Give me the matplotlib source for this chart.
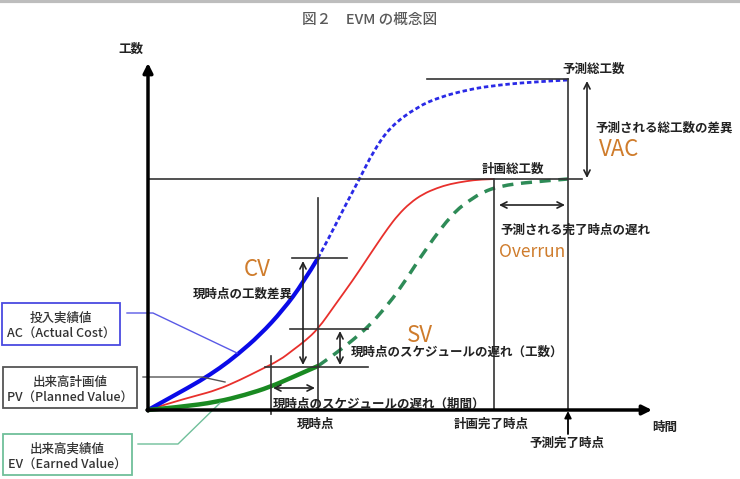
import matplotlib
matplotlib.use("Agg")
from matplotlib import pyplot as plt
from matplotlib.patches import Rectangle, PathPatch
from matplotlib.path import Path

plt.rcParams['font.family'] = ['Noto Sans CJK JP', 'DejaVu Sans']

# --- curve points (diagram coordinates, y grows downward) ---
ac_x = [148, 175, 200, 220, 237, 260, 283, 303, 318]
ac_y = [410, 395, 381, 368, 355, 335, 310, 283, 258]
ac_fc_x = [318, 330, 345, 360, 373, 390, 417, 440, 467, 490, 530, 568]
ac_fc_y = [258, 236, 206, 178, 152, 127, 107, 97, 90, 86, 82, 80]

pv_x = [148, 170, 195, 217, 240, 260, 280, 293, 305, 318, 335, 353, 365,
        377, 388, 398, 410, 423, 437, 450, 467, 480, 494]
pv_y = [410, 403, 396, 390, 380, 370, 360, 350, 341, 329, 305, 280, 262,
        244, 228, 215, 203, 194, 188, 184, 181, 179.5, 179]

ev_x = [148, 180, 217, 245, 270, 293, 318]
ev_y = [410, 407, 402, 395, 387, 377, 366]
ev_fc_x = [318, 335, 353, 370, 385, 400, 427, 453, 470, 483, 500, 530, 568]
ev_fc_y = [366, 354, 340, 325, 308, 289, 247, 213, 200, 192, 186, 182, 179]

# key positions
origin = (148, 410)
now_x, plan_end_x, fc_end_x = 318, 494, 568
plan_total_y, fc_total_y = 179, 79
ac_now, pv_now, ev_now = 258, 329, 367
ev_on_pv_x = 271

fig = plt.figure(figsize=(7.4, 4.79), dpi=100)
ax = fig.add_axes([0, 0, 1, 1])
ax.set_xlim(0, 740)
ax.set_ylim(479, 0)
ax.axis('off')


def smooth_curve(xs, ys, **kw):
    # quadratic bezier through the read points (points act as control points)
    pts = list(zip(xs, ys))
    verts = [pts[0]]
    codes = [Path.MOVETO]
    for i in range(1, len(pts) - 1):
        mid = ((pts[i][0] + pts[i + 1][0]) / 2, (pts[i][1] + pts[i + 1][1]) / 2)
        if i == len(pts) - 2:
            mid = pts[-1]
        verts += [pts[i], mid]
        codes += [Path.CURVE3, Path.CURVE3]
    ax.add_patch(PathPatch(Path(verts, codes), fill=False, **kw))


ref = dict(color='#333333', lw=1.2)

# top border shade
ax.plot([0, 740], [1, 1], color='#bdbdbd', lw=3)

# reference lines
ax.plot([origin[0], 582], [plan_total_y, plan_total_y], **ref)
ax.plot([427, fc_end_x], [fc_total_y, fc_total_y], **ref)
ax.plot([fc_end_x, fc_end_x], [fc_total_y, origin[1]], **ref)
ax.plot([plan_end_x, plan_end_x], [plan_total_y, origin[1]], **ref)
ax.plot([now_x, now_x], [198, origin[1]], **ref)
ax.plot([ev_on_pv_x, ev_on_pv_x], [356, 414], **ref)
ax.plot([292, 347], [ac_now, ac_now], **ref)
ax.plot([290, 368], [pv_now, pv_now], **ref)
ax.plot([265, 368], [ev_now, ev_now], **ref)

# curves
smooth_curve(pv_x, pv_y, edgecolor='#e8302c', lw=1.3)
smooth_curve(ac_fc_x, ac_fc_y, edgecolor='#2a2ae6', lw=2, linestyle=(0, (1.6, 1.0)))
smooth_curve(ev_fc_x, ev_fc_y, edgecolor='#2e8b57', lw=2.5, linestyle=(0, (3.2, 2.2)))
smooth_curve(ac_x, ac_y, edgecolor='#0a0ae8', lw=3, capstyle='round')
smooth_curve(ev_x, ev_y, edgecolor='#1a8a22', lw=3.2, capstyle='round')

# axes with arrows
axis_arrow = dict(arrowstyle='-|>', lw=2.5, color='black', mutation_scale=14,
                  shrinkA=0, shrinkB=0)
ax.annotate('', xy=(148, 63), xytext=(148, 411), arrowprops=axis_arrow)
ax.annotate('', xy=(652, 410), xytext=(147, 410), arrowprops=axis_arrow)
ax.annotate('', xy=(fc_end_x, 411), xytext=(fc_end_x, 434),
            arrowprops=dict(arrowstyle='-|>', lw=1.3, color='black',
                            mutation_scale=10, shrinkA=0, shrinkB=0))

# double arrows
dbl = dict(arrowstyle='<->', lw=1.2, color='#222222', mutation_scale=11,
           shrinkA=0, shrinkB=0)
ax.annotate('', xy=(303, 261), xytext=(303, 365), arrowprops=dbl)
ax.annotate('', xy=(340, 331), xytext=(340, 365), arrowprops=dbl)
ax.annotate('', xy=(273, 388), xytext=(315, 388), arrowprops=dbl)
ax.annotate('', xy=(587, 81), xytext=(587, 178), arrowprops=dbl)
ax.annotate('', xy=(499, 205), xytext=(565, 205), arrowprops=dbl)

# labels
lab = dict(fontsize=9, fontweight='bold', color='#222222', ha='center', va='center')
ax.text(131, 49, '工数', **lab)
ax.text(594, 69, '予測総工数', **lab)
ax.text(664, 128, '予測される総工数の差異', **lab)
ax.text(513, 169, '計画総工数', **lab)
ax.text(575, 230, '予測される完了時点の遅れ', **lab)
ax.text(243, 294, '現時点の工数差異', **lab)
ax.text(457, 352, '現時点のスケジュールの遅れ（工数）', **lab)
ax.text(379, 404, '現時点のスケジュールの遅れ（期間）', **lab)
ax.text(316, 424, '現時点', **lab)
ax.text(491, 424, '計画完了時点', **lab)
ax.text(567, 443, '予測完了時点', **lab)
ax.text(665, 427, '時間', **lab)

orange = '#cf7c2c'
ax.text(619, 150, 'VAC', fontsize=16, color=orange, ha='center', va='center')
ax.text(532, 252, 'Overrun', fontsize=12.5, color=orange, ha='center', va='center')
ax.text(257, 270, 'CV', fontsize=16, color=orange, ha='center', va='center')
ax.text(420, 335, 'SV', fontsize=16, color=orange, ha='center', va='center')

ax.text(370, 20, '図２　EVM の概念図', fontsize=10.5, fontweight='medium',
        color='#5a5a5a', ha='center', va='center')

# legend boxes with leader lines
boxes = [
    ('投入実績値', 'AC（Actual Cost）', (2, 303, 118, 42), '#4a4ae0'),
    ('出来高計画値', 'PV（Planned Value）', (3, 367, 134, 41), '#555555'),
    ('出来高実績値', 'EV（Earned Value）', (3, 434, 129, 41), '#6fbf9a'),
]
for line1, line2, (bx, by, bw, bh), ec in boxes:
    ax.add_patch(Rectangle((bx, by), bw, bh, fill=False, edgecolor=ec, lw=1.3))
    cx = bx + bw / 2
    ax.text(cx, by + 15, line1, fontsize=9, fontweight='medium', color='#333333',
            ha='center', va='center')
    ax.text(cx, by + 30, line2, fontsize=9, fontweight='medium', color='#333333',
            ha='center', va='center')

ax.plot([127, 153, 237], [313, 313, 353], color='#5a5ae6', lw=1)
ax.plot([143, 202, 225], [377, 377, 382], color='#555555', lw=1)
ax.plot([138, 178, 220], [444, 444, 403], color='#6fbf9a', lw=1)

fig.savefig('out.png', dpi=100)
